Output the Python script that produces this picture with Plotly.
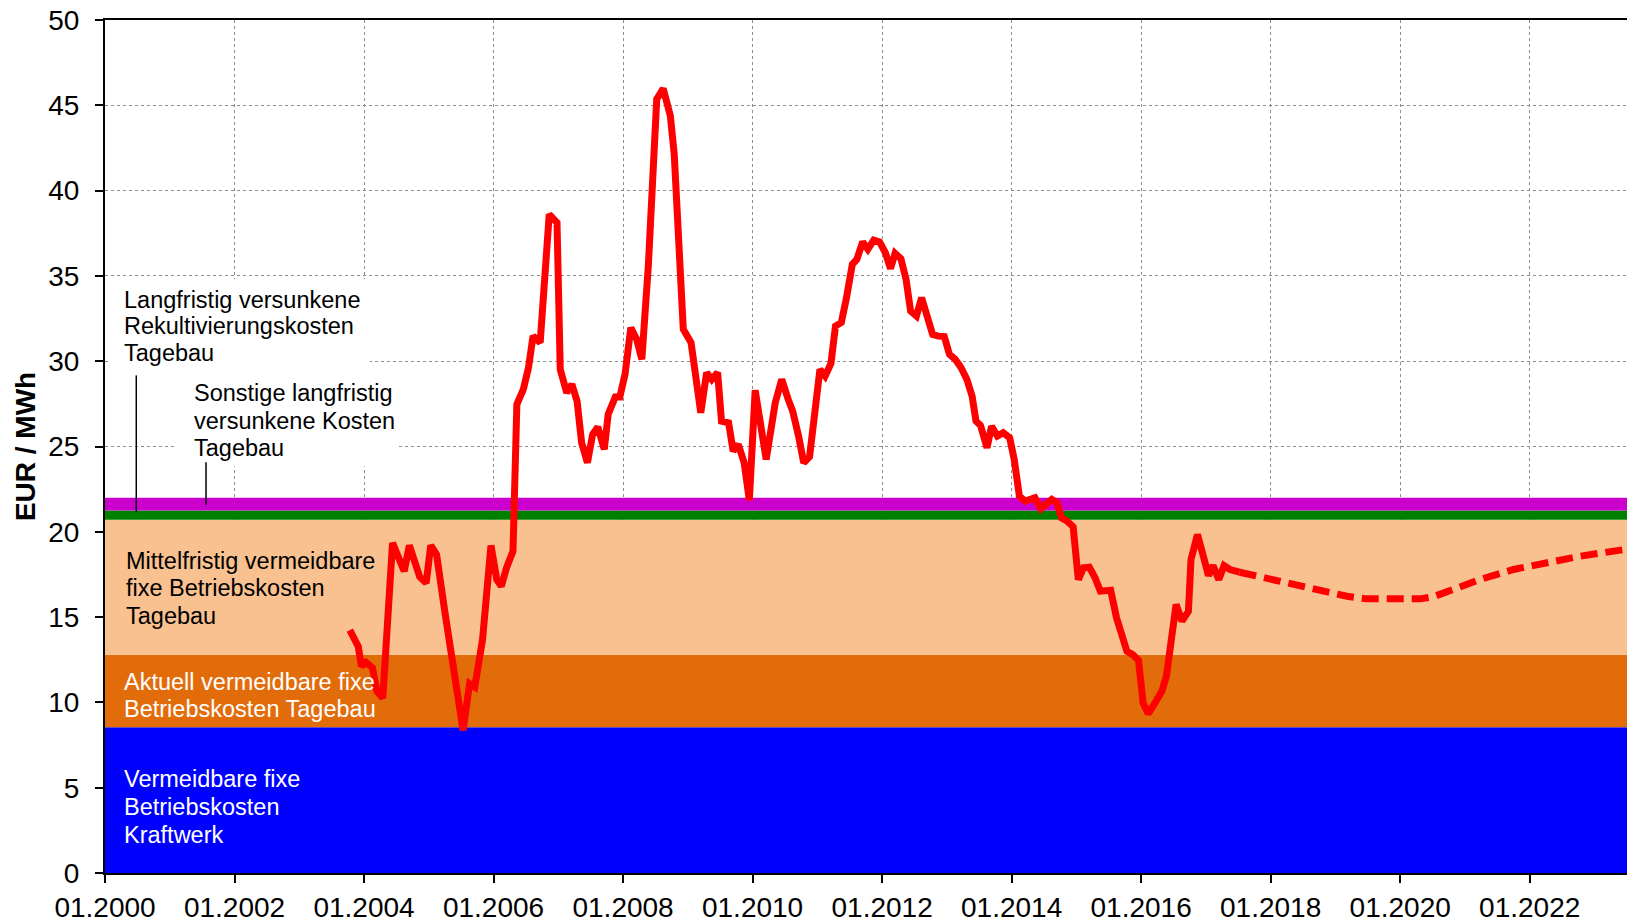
import plotly.graph_objects as go

# Strompreis-Verlauf (Jahre als Dezimalzahl)
years_hist = [2003.78, 2003.91, 2003.96, 2004.03, 2004.13, 2004.20, 2004.29, 2004.44, 2004.62, 2004.70,
              2004.86, 2004.96, 2005.03, 2005.12, 2005.25, 2005.35, 2005.53, 2005.63, 2005.71, 2005.83,
              2005.96, 2006.05, 2006.12, 2006.20, 2006.30, 2006.36, 2006.46, 2006.54, 2006.61, 2006.72,
              2006.77, 2006.86, 2006.98, 2007.03, 2007.13, 2007.21, 2007.29, 2007.36, 2007.45, 2007.53,
              2007.61, 2007.71, 2007.77, 2007.88, 2007.95, 2008.03, 2008.12, 2008.21, 2008.29, 2008.39,
              2008.52, 2008.62, 2008.73, 2008.79, 2008.93, 2009.05, 2009.20, 2009.29, 2009.37, 2009.46,
              2009.52, 2009.63, 2009.70, 2009.78, 2009.87, 2009.95, 2010.04, 2010.21, 2010.35, 2010.45,
              2010.55, 2010.62, 2010.71, 2010.79, 2010.88, 2010.95, 2011.04, 2011.12, 2011.21, 2011.28,
              2011.37, 2011.45, 2011.54, 2011.61, 2011.70, 2011.78, 2011.87, 2011.96, 2012.05, 2012.13,
              2012.20, 2012.29, 2012.37, 2012.44, 2012.53, 2012.61, 2012.69, 2012.78, 2012.87, 2012.96,
              2013.04, 2013.13, 2013.22, 2013.31, 2013.39, 2013.45, 2013.52, 2013.62, 2013.69, 2013.78,
              2013.87, 2013.97, 2014.04, 2014.12, 2014.21, 2014.36, 2014.45, 2014.62, 2014.70, 2014.77,
              2014.86, 2014.95, 2015.03, 2015.11, 2015.20, 2015.29, 2015.37, 2015.53, 2015.62, 2015.70,
              2015.78, 2015.87, 2015.96, 2016.03, 2016.11, 2016.22, 2016.32, 2016.39, 2016.47, 2016.54,
              2016.63, 2016.73, 2016.77, 2016.87, 2016.96, 2017.04, 2017.11, 2017.20, 2017.28, 2017.37,
              2017.52]
price_hist = [14.23, 13.29, 12.12, 12.35, 12.02, 10.65, 10.26, 19.35, 17.69, 19.20,
              17.36, 17.00, 19.20, 18.67, 15.25, 12.70, 8.36, 11.10, 10.90, 13.68,
              19.20, 17.20, 16.81, 17.89, 18.86, 27.47, 28.35, 29.62, 31.47, 31.09,
              33.82, 38.61, 38.12, 29.52, 28.15, 28.64, 27.66, 25.22, 24.05, 25.71,
              26.14, 24.83, 26.88, 27.90, 27.90, 29.23, 31.96, 31.28, 30.11, 35.58,
              45.36, 45.98, 44.38, 42.13, 31.87, 31.09, 26.98, 29.33, 28.93, 29.33,
              26.49, 26.39, 24.73, 25.12, 24.05, 21.85, 28.30, 24.24, 27.57, 28.93,
              27.76, 27.07, 25.61, 24.05, 24.40, 26.98, 29.52, 29.13, 29.87, 32.06,
              32.26, 33.72, 35.68, 35.97, 36.99, 36.56, 37.10, 36.99, 36.36, 35.43,
              36.32, 36.01, 34.80, 32.94, 32.65, 33.72, 32.65, 31.57, 31.47, 31.44,
              30.40, 30.11, 29.62, 28.93, 27.95, 26.49, 26.23, 24.93, 26.19, 25.61,
              25.81, 25.51, 24.24, 22.09, 21.80, 21.99, 21.35, 21.90, 21.70, 20.82,
              20.62, 20.29, 17.20, 17.89, 17.92, 17.30, 16.52, 16.57, 14.96, 14.08,
              13.00, 12.80, 12.47, 9.97, 9.34, 10.01, 10.65, 11.53, 14.27, 15.74,
              14.76, 15.34, 18.38, 19.84, 18.57, 17.44, 18.02, 17.20, 18.02, 17.79,
              17.63]

# Terminmarkt (gestrichelt)
years_fut = [2017.52, 2018.16, 2018.66, 2019.18, 2019.48, 2020.31, 2020.51, 2020.82, 2021.23, 2021.75,
             2022.26, 2022.78, 2023.53]
price_fut = [17.63, 17.10, 16.62, 16.22, 16.07, 16.07, 16.19, 16.62, 17.20, 17.79,
             18.22, 18.57, 19.00]

# Kostenbänder (gestapelt, EUR/MWh)
band_heights = [8.55, 4.25, 7.9, 0.55, 0.75]
band_colors = ["#0000FF", "#E36C0A", "#F9C090", "#008000", "#CC00CC"]

x_range = [2000, 2023.58]
tick_years = [2000, 2002, 2004, 2006, 2008, 2010, 2012, 2014, 2016, 2018, 2020, 2022]
tick_text = ["01.%d" % y for y in tick_years]

FONT = "Arial, Liberation Sans, sans-serif"

fig = go.Figure()
for h, c in zip(band_heights, band_colors):
    fig.add_trace(go.Scatter(x=x_range, y=[h, h], stackgroup="bands", mode="lines",
                             line=dict(width=0), fillcolor=c, hoverinfo="skip", showlegend=False))

fig.add_trace(go.Scatter(x=years_hist, y=price_hist, mode="lines",
                         line=dict(color="#FF0000", width=7), showlegend=False))
fig.add_trace(go.Scatter(x=years_fut, y=price_fut, mode="lines",
                         line=dict(color="#FF0000", width=7, dash="17px,8px"), showlegend=False))

# weiße Hintergründe der oberen Beschriftungen
fig.add_shape(type="rect", x0=2000.08, x1=2004.09, y0=29.4, y1=34.8,
              fillcolor="white", line_width=0, layer="above")
fig.add_shape(type="rect", x0=2001.11, x1=2004.51, y0=23.84, y1=29.4,
              fillcolor="white", line_width=0, layer="above")
# Zeigerlinien
fig.add_shape(type="line", x0=2000.483, x1=2000.483, y0=21.15, y1=29.17,
              line=dict(color="black", width=1.5), layer="above")
fig.add_shape(type="line", x0=2001.56, x1=2001.56, y0=21.58, y1=24.08,
              line=dict(color="black", width=1.5), layer="above")


def add_label(x, ys, lines, color):
    for y, t in zip(ys, lines):
        fig.add_annotation(x=x, y=y, text=t, showarrow=False, xanchor="left", yanchor="middle",
                           font=dict(family=FONT, size=23.5, color=color))


add_label(2000.26, [33.61, 32.05, 30.48],
          ["Langfristig versunkene", "Rekultivierungskosten", "Tagebau"], "black")
add_label(2001.35, [28.13, 26.47, 24.90],
          ["Sonstige langfristig", "versunkene Kosten", "Tagebau"], "black")
add_label(2000.30, [18.29, 16.69, 15.07],
          ["Mittelfristig vermeidbare", "fixe Betriebskosten", "Tagebau"], "black")
add_label(2000.26, [11.22, 9.60],
          ["Aktuell vermeidbare fixe", "Betriebskosten Tagebau"], "white")
add_label(2000.26, [5.49, 3.85, 2.22],
          ["Vermeidbare fixe", "Betriebskosten", "Kraftwerk"], "white")

fig.add_annotation(xref="paper", yref="paper", x=-0.052, y=0.5, text="<b>EUR / MWh</b>",
                   textangle=-90, showarrow=False, xanchor="center", yanchor="middle",
                   font=dict(family=FONT, size=28, color="black"))

axis_common = dict(showline=True, linecolor="black", linewidth=2, mirror=True,
                   ticks="outside", ticklen=8, tickwidth=2, tickcolor="black",
                   showgrid=True, gridcolor="#8c8c8c", gridwidth=1, griddash="dot",
                   zeroline=False, ticklabeloverflow="allow", automargin=False,
                   tickfont=dict(family=FONT, size=28, color="black"))

fig.update_xaxes(range=x_range, tickvals=tick_years, ticktext=tick_text, **axis_common)
fig.update_yaxes(range=[0, 50], dtick=5, ticklabelstandoff=10, **axis_common)

# die Seite hat 8 px Rand, daher Figur etwas kleiner
fig.update_layout(width=1627, height=915, margin=dict(l=97, r=3, t=12, b=50),
                  plot_bgcolor="white", paper_bgcolor="white",
                  font=dict(family=FONT), showlegend=False)

fig.write_html("out.html")
